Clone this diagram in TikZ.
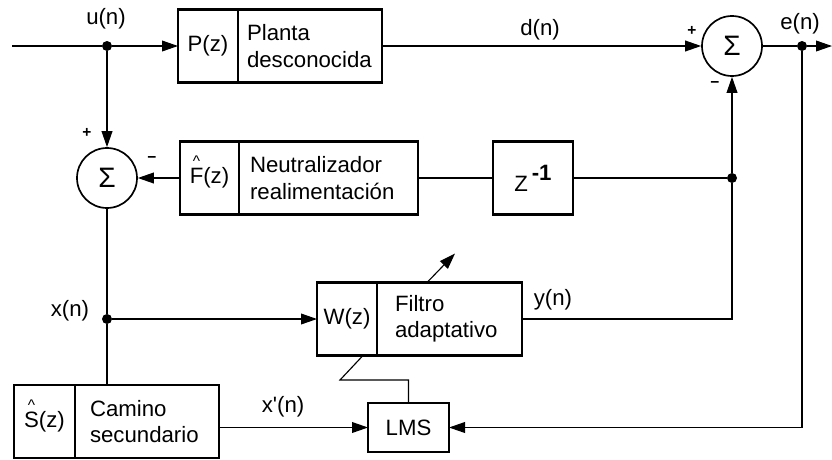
\documentclass[tikz,border=0pt]{standalone}
\usepackage{fontspec}
\setmainfont{Liberation Sans}
\usetikzlibrary{arrows.meta,positioning,calc}
% estimate mark set well above a letter
\newcommand\hatop[1]{\ooalign{#1\cr\hidewidth\raisebox{12pt}{\fontsize{11}{11}\selectfont\textasciicircum}\hidewidth\cr}}

\begin{document}
\begin{tikzpicture}[
  x=0.25mm, y=-0.25mm,
  font=\fontsize{15.8}{18.6}\selectfont,
  blk/.style={draw, line width=1.5pt, outer sep=0pt, inner sep=0pt,
              minimum height=18.25mm, minimum width=#1},
  rbox/.style={draw, line width=1.5pt, outer sep=0pt, inner ysep=0pt,
               inner xsep=2.25mm, minimum height=18.25mm,
               text width=#1, align=left},
  sumnode/.style={circle, draw, line width=1.2pt, minimum size=15mm,
                  inner sep=0pt, font=\fontsize{20}{20}\selectfont},
  dot/.style={circle, fill, inner sep=0pt, minimum size=2.5mm},
  sig/.style={line width=0.8pt},
  sigarr/.style={sig, -{Triangle[length=4mm,width=2.7mm]}},
  sign/.style={font=\fontsize{11}{11}\selectfont\bfseries},
]
  \useasboundingbox (0,0) rectangle (832,459);

  % upper row: plant and error summing point
  \coordinate (in)  at (12,46);
  \coordinate (out) at (832,46);
  \node[dot] (u) at (107,46) {};
  \node[blk=15mm] (Pl) at (208,46) {P(z)};
  \node[rbox=31.5mm, right=0pt of Pl] (Pr) {Planta\\desconocida};
  \node[sumnode] (S2) at (732,46) {Σ};
  \node[dot] (e) at (802,46) {};

  % feedback neutralization row
  \node[sumnode] (S1) at (107,178) {Σ};
  \node[blk=14.75mm] (Fl) at (209.5,178) {\hatop{F}(z)};
  \node[rbox=39.25mm, inner xsep=2.75mm, right=0pt of Fl] (Fr) {Neutralizador\\realimentación};
  \node[blk=20mm] (Z) at (533,178) {Z\,\raisebox{0.5em}{\bfseries -1}};
  \node[dot] (j1) at (732,178) {};

  % adaptive filter
  \node[dot] (x) at (107,319) {};
  \node[blk=15mm] (Wl) at (347,319) {W(z)};
  \node[rbox=27.25mm, inner xsep=4.5mm, right=0pt of Wl] (Wr) {Filtro\\adaptativo};

  % secondary path estimate and LMS
  \node[blk=15.25mm] (Sl) at (44.5,421.5) {\hatop{S}(z)};
  \node[rbox=28.5mm, inner xsep=3.75mm, right=0pt of Sl] (Sr) {Camino\\secundario};
  \node[blk=20.25mm, minimum height=12.25mm] (L) at (408.5,427.5) {LMS};

  % signal labels
  \node at (106,19) {u(n)};
  \node at (540,30) {d(n)};
  \node at (800,24) {e(n)};
  \node at (70,311) {x(n)};
  \node at (553,300) {y(n)};
  \node at (283,407) {x\textquotesingle(n)};
  \node[sign] at (87,133) {+};
  \node[sign] at (152,160) {−};
  \node[sign] at (692,31) {+};
  \node[sign] at (715,85) {−};

  % connectors
  \draw[sig] (in) -- (u);
  \draw[sigarr] (u) -- (Pl);
  \draw[sigarr] (u) -- (S1);
  \draw[sigarr] (Pr) -- (S2);
  \draw[sig] (S2) -- (e);
  \draw[sigarr] (e) -- (out);
  \draw[sigarr] (e) |- (L);
  \draw[sig] (Fr) -- (Z);
  \draw[sig] (Z) -- (j1);
  \draw[sigarr] (Fl) -- (S1);
  \draw[sigarr] (j1) -- (S2);
  \draw[sig] (Wr) -| (j1);
  \draw[sig] (S1) -- (x);
  \draw[sig] (x) -- (x |- Sr.north);
  \draw[sigarr] (x) -- (Wl);
  \draw[sigarr] (Sr.east |- L) -- (L);

  % LMS update path and adaptation arrow
  \coordinate (wk) at (340,380);
  \draw[sig] ($(Wl.south east)+(-14,0)$) -- (wk) -- (wk -| L.north) -- (L.north);
  \draw[sigarr] ($(Wr.north west)+(50,0)$) -- ++(28,-29);
\end{tikzpicture}
\end{document}
